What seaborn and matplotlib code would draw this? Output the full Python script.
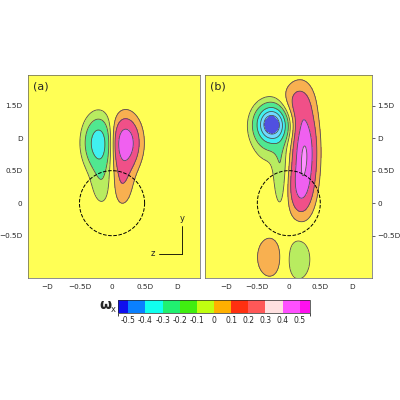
import numpy as np
import matplotlib
matplotlib.use("Agg")
import matplotlib.pyplot as plt
import seaborn as sns
from matplotlib.colors import ListedColormap, BoundaryNorm
from matplotlib.colorbar import ColorbarBase

sns.set_style("white")
plt.rcParams['font.family'] = ['DejaVu Sans']

bounds = [-0.5, -0.4, -0.3, -0.2, -0.1, 0, 0.1, 0.2, 0.3, 0.4, 0.5]
tick_labels = ["-0.5", "-0.4", "-0.3", "-0.2", "-0.1", "0", "0.1", "0.2", "0.3", "0.4", "0.5"]
bar_colors = ["#1010ee", "#0a80ff", "#10ffee", "#20f070", "#40ee10", "#c0ff10",
              "#ffb000", "#ff3010", "#ff5858", "#ffe0e0", "#ff50ff", "#ff10ee"]
bg = "#ffff55"
neg_fill = ["#5050e0", "#70d8ff", "#40f0f0", "#50e890", "#b8ec60"]
pos_fill = ["#f8b050", "#f05088", "#f060f0", "#ff90ff"]
tick_pos = [-1, -0.5, 0, 0.5, 1]
tick_txt = ["\u2212D", "\u22120.5D", "0", "0.5D", "D"]
ytick_pos = [-0.5, 0, 0.5, 1, 1.5]
ytick_txt = ["\u22120.5D", "0", "0.5D", "D", "1.5D"]

# vortex blobs: (x0, y0, sx, sy, amplitude)
blobs_a = [(-0.2, 0.93, 0.15, 0.26, -0.27), (-0.15, 0.35, 0.12, 0.28, -0.08),
           (0.2, 0.93, 0.15, 0.26, 0.28), (0.15, 0.35, 0.12, 0.28, 0.09)]
blobs_b = [(-0.27, 1.22, 0.16, 0.18, -0.45), (-0.3, 1.05, 0.2, 0.3, -0.09),
           (-0.13, 0.45, 0.08, 0.38, -0.09),
           (0.25, 0.8, 0.13, 0.45, 0.3), (0.17, 0.2, 0.13, 0.28, 0.14),
           (0.12, 1.55, 0.16, 0.22, 0.1),
           (-0.3, -0.83, 0.16, 0.24, 0.085), (0.15, -0.86, 0.15, 0.25, -0.085)]

def field(blobs, X, Y):
    Z = np.zeros_like(X)
    for x0, y0, sx, sy, a in blobs:
        Z += a * np.exp(-((X - x0) ** 2 / (2 * sx ** 2) + (Y - y0) ** 2 / (2 * sy ** 2)))
    return Z

fig = plt.figure(figsize=(4, 4), dpi=100)
axa = fig.add_axes([28/400, 1-278/400, 172/400, 203/400])
axb = fig.add_axes([205/400, 1-278/400, 167/400, 203/400])
x = np.linspace(-1.4, 1.4, 300)
y = np.linspace(-1.2, 2.0, 300)
X, Y = np.meshgrid(x, y)
lev = [-2, -0.4, -0.3, -0.2, -0.1, -0.04, 0.04, 0.1, 0.2, 0.3, 2]
cols = neg_fill + [bg] + pos_fill
for ax, blobs, lab, xl in [(axa, blobs_a, "(a)", (-1.29, 1.35)), (axb, blobs_b, "(b)", (-1.33, 1.32))]:
    Z = field(blobs, X, Y)
    ax.contourf(X, Y, Z, levels=lev, colors=cols)
    ax.contour(X, Y, Z, levels=lev[1:-1], colors="#505050", linewidths=0.6, linestyles="solid")
    t = np.linspace(0, 2*np.pi, 200)
    ax.plot(0.5*np.cos(t), 0.5*np.sin(t), ls="--", color="k", lw=0.7)
    ax.set_xlim(*xl); ax.set_ylim(-1.15, 1.97)
    ax.set_xticks(tick_pos); ax.set_xticklabels(tick_txt, fontsize=5.2)
    ax.set_yticks(ytick_pos); ax.set_yticklabels(ytick_txt, fontsize=5.2)
    ax.tick_params(length=2, width=0.5, pad=2)
    ax.text(0.03, 0.97, lab, transform=ax.transAxes, ha="left", va="top", fontsize=8)
    for s in ax.spines.values():
        s.set_linewidth(0.5); s.set_color("#606060")
axb.yaxis.tick_right()
# axis indicator in (a)
axa.plot([1.08, 1.08], [-0.35, -0.78], color="k", lw=0.6)
axa.plot([1.08, 0.72], [-0.78, -0.78], color="k", lw=0.6)
axa.text(1.08, -0.3, "y", fontsize=6, ha="center", va="bottom")
axa.text(0.66, -0.78, "z", fontsize=6, ha="right", va="center")

cax = fig.add_axes([118/400, 1-313/400, 192/400, 13/400])
cmap = ListedColormap(bar_colors)
edges = [-0.56] + bounds + [0.56]
norm = BoundaryNorm(edges, cmap.N)
cb = ColorbarBase(cax, cmap=cmap, norm=norm, orientation="horizontal",
                  boundaries=edges, ticks=bounds, spacing="proportional")
cb.set_ticklabels(tick_labels, fontsize=5.5)
cax.tick_params(length=0, pad=2)
cb.outline.set_linewidth(0.5)
fig.text(99/400, 1-305/400, "\u03c9", fontsize=10, ha="left", va="center", fontweight="bold")
fig.text(111/400, 1-309/400, "x", fontsize=6, ha="left", va="center")
fig.savefig("out.png", dpi=100)
